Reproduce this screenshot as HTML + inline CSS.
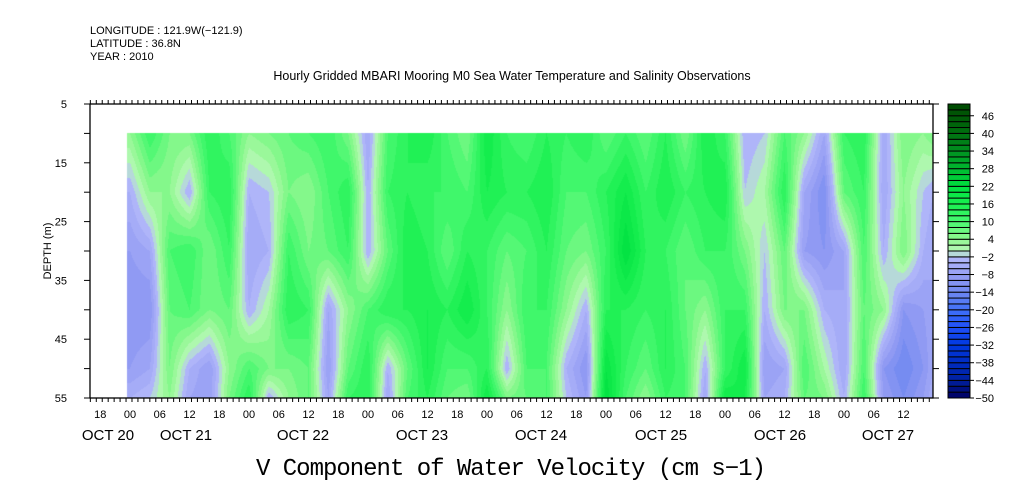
<!DOCTYPE html>
<html><head><meta charset="utf-8"><style>
html,body{margin:0;padding:0;background:#fff;}
#wrap{position:relative;width:1009px;height:504px;overflow:hidden;font-family:"Liberation Sans",sans-serif;}
canvas{position:absolute;left:0;top:0;}
svg{position:absolute;left:0;top:0;}
</style></head><body>
<div id="wrap">
<canvas id="hm" width="1009" height="504"></canvas>
<svg id="ax" width="1009" height="504"></svg>
</div>
<script>
// ---- data ----
const hours = [0,4,8,12,16,20,24,28,32,36,40,44,48,52,56,60,64,68,72,76,80,84,88,92,96,100,104,108,112,116,120,124,128,132,136,140,144,148,152,156,160,162];
const depths = [10,20,30,40,50,55];
const v10 = [4,12,6,6,14,10,4,6,8,10,12,6,-6,10,14,16,10,6,18,12,10,14,12,14,8,12,8,14,6,16,12,-4,-2,10,4,-6,12,14,-6,6,4,6];
const v20 = [-4,4,4,-4,12,14,-4,-2,6,4,10,14,-4,12,14,12,12,10,16,14,14,16,10,10,14,18,12,16,12,14,16,-2,2,14,-6,-12,8,12,-6,4,-2,-4];
const v30 = [-8,-6,10,12,6,12,-6,-4,12,6,8,12,-4,8,16,14,8,14,12,8,10,14,8,6,12,22,14,12,8,12,12,6,-2,8,-8,-10,-6,10,-4,6,-4,-6];
const v40 = [-10,-10,8,10,6,8,-4,2,14,12,-6,4,10,14,14,16,14,18,12,4,12,12,4,-4,14,14,12,14,8,4,12,12,-4,6,6,-4,-6,8,4,-10,-8,-6];
const v50 = [-8,-6,6,-4,-8,4,10,6,6,8,-8,8,14,-4,8,16,10,10,14,-4,10,10,-4,-10,20,12,8,14,10,-4,12,18,-8,-6,10,2,-6,10,-10,-14,-10,-6];
const v55 = [-4,-2,4,-6,-8,6,14,-4,4,8,-6,12,14,-6,10,14,8,6,18,6,8,10,-2,-8,22,10,4,12,10,-6,18,16,-6,-4,8,6,-4,12,-8,-12,-8,-4];
const rows = [v10,v20,v30,v40,v50,v55];
const cbLabels = [46,40,34,28,22,16,10,4,-2,-8,-14,-20,-26,-32,-38,-44,-50];
const hourLabels = ["18","00","06","12","18","00","06","12","18","00","06","12","18","00","06","12","18","00","06","12","18","00","06","12","18","00","06","12","18","00","06","12"];
const dayLabels = ["OCT 20","OCT 21","OCT 22","OCT 23","OCT 24","OCT 25","OCT 26","OCT 27"];
const dayLabelX = [108,186,303,422,541,661,780,888];
const depthTicks = [5,15,25,35,45,55];

// ---- scales ----
const X0=90,X1=933,Y0=104,Y1=398;
const xS = h => 130 + h*119/24;
const yS = d => Y0 + (d-5)*(Y1-Y0)/50;
const hOf = x => (x-130)*24/119;
const dOf = y => 5 + (y-Y0)*50/(Y1-Y0);

const stops=[[-50,[0,0,96]],[-44,[0,32,160]],[-32,[0,56,224]],[-26,[32,80,248]],[-20,[64,112,248]],[-14,[112,136,240]],[-8,[150,158,244]],[-2,[180,186,250]],
[0,[184,248,184]],[4,[144,248,144]],[10,[72,248,112]],[16,[24,240,80]],[22,[0,224,64]],[28,[0,184,48]],[34,[0,144,32]],[40,[0,112,16]],[50,[0,72,0]]];
function color(v){
  v=Math.max(-50,Math.min(49.9,v));
  let q=Math.floor(v/2)*2+1;
  for(let i=0;i<stops.length-1;i++){
    const a=stops[i],b=stops[i+1];
    if(q>=a[0]&&q<=b[0]){const t=(q-a[0])/(b[0]-a[0]);return `rgb(${a[1].map((c,k)=>Math.round(c+(b[1][k]-c)*t)).join(',')})`;}
  }
  return 'rgb(0,72,0)';
}
function interp(arr,xs,x){
  if(x<=xs[0])return arr[0];
  for(let i=0;i<xs.length-1;i++){if(x<=xs[i+1]){const t=(x-xs[i])/(xs[i+1]-xs[i]);return arr[i]+(arr[i+1]-arr[i])*t;}}
  return arr[arr.length-1];
}
// ---- heatmap ----
const ctx=document.getElementById('hm').getContext('2d');
const xa=Math.round(xS(-0.6)), ya=Math.round(yS(10));
for(let x=xa;x<X1;x++){
  const h=hOf(x+0.5);
  const col=rows.map(r=>interp(r,hours,h));
  for(let y=ya;y<Y1;y++){
    const d=dOf(y+0.5);
    ctx.fillStyle=color(interp(col,depths,d));
    ctx.fillRect(x,y,1,1);
  }
}
// ---- axes ----
const svg=document.getElementById('ax');const NS='http://www.w3.org/2000/svg';
function el(t,a,txt){const e=document.createElementNS(NS,t);for(const k in a)e.setAttribute(k,a[k]);if(txt!==undefined)e.textContent=txt;svg.appendChild(e);return e;}
let e;
e=el('rect',{x:X0,y:Y0,width:X1-X0,height:Y1-Y0,fill:'none',stroke:'#000','stroke-width':1.3});


for(let k=-8*20/24;k<=163*20/24;k++){
  const h=k*24/20; const x=xS(h); if(x<X0||x>X1)continue;
  const major=Math.abs(h%24)<0.01;
  e=el('line',{x1:x,x2:x,y1:Y0,y2:Y0-(major?9:4),stroke:'#000'});
  
  
  e=el('line',{x1:x,x2:x,y1:Y1,y2:Y1+(major?9:4),stroke:'#000'});
  
  
}
hourLabels.forEach((t,i)=>{
  const x=xS(-6+6*i); if(x>X1-20)return;
  e=el('text',{x:x,y:418,'font-size':11,'text-anchor':'middle'},t);
  
  
});
dayLabels.forEach((t,i)=>{
  e=el('text',{x:dayLabelX[i],y:440,'font-size':15,'text-anchor':'middle'},t);
  
  
});
for(let d=5;d<=55;d+=5){
  e=el('line',{x1:X0-6,x2:X0,y1:yS(d),y2:yS(d),stroke:'#000'});
  
  
  e=el('line',{x1:X1,x2:X1+6,y1:yS(d),y2:yS(d),stroke:'#000'});
  
  
}
depthTicks.forEach(d=>{
  e=el('text',{x:67,y:yS(d)+4,'font-size':11,'text-anchor':'end'},String(d));
  
  
});
e=el('text',{x:51,y:251,'font-size':11,'text-anchor':'middle',transform:'rotate(-90 51 251)'},'DEPTH (m)');


const CB0=948,CB1=970;
for(let v=-50;v<50;v+=2){
  const yT=Y1-(v+2+50)*(Y1-Y0)/100, hgt=(Y1-Y0)/50;
  e=el('rect',{x:CB0,y:yT,width:CB1-CB0,height:hgt,fill:color(v+1),stroke:'#000','stroke-width':1});
  
  
}
cbLabels.forEach(v=>{
  const y=Y1-(v+50)*(Y1-Y0)/100;
  e=el('line',{x1:CB1,x2:CB1+4,y1:y,y2:y,stroke:'#000'});
  
  
  e=el('text',{x:994,y:y+4,'font-size':11,'text-anchor':'end'},(v<0?'\u2212':'')+Math.abs(v));
  
  
});
[['LONGITUDE : 121.9W(\u2212121.9)',34],['LATITUDE : 36.8N',47],['YEAR : 2010',60]].forEach(([t,y])=>{
  e=el('text',{x:90,y:y,'font-size':11},t);
  
  
});
e=el('text',{x:512,y:80,'font-size':12.5,'text-anchor':'middle'},'Hourly Gridded MBARI Mooring M0 Sea Water Temperature and Salinity Observations');


e=el('text',{x:511,y:475,'font-size':24,'text-anchor':'middle',textLength:510,'font-family':'Liberation Mono, monospace'},'V Component of Water Velocity (cm s\u22121)');


</script>
</body></html>
